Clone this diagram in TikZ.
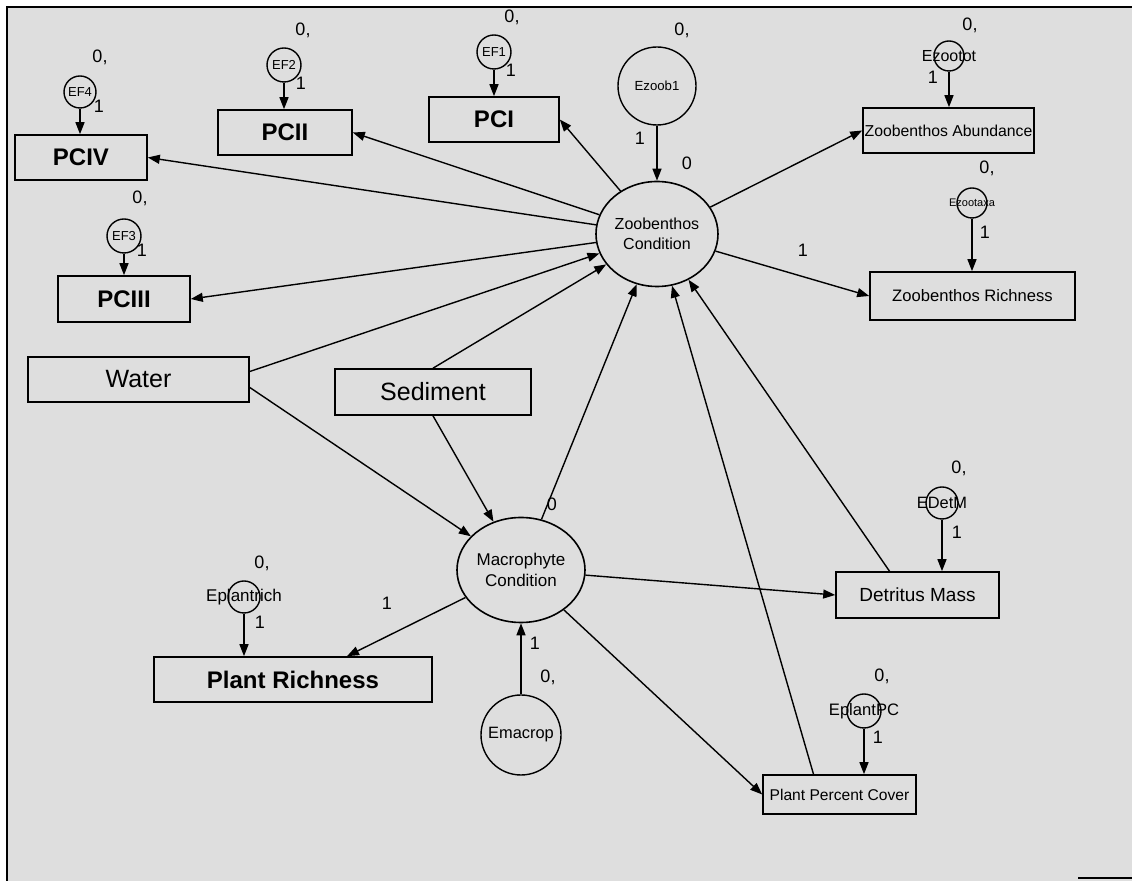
\documentclass[tikz,border=0pt]{standalone}
\usepackage{fontspec}
\setmainfont{Liberation Sans}
\usetikzlibrary{shapes.geometric, arrows.meta}

\begin{document}
\begin{tikzpicture}[
    x=0.5pt, y=-0.5pt,
    every node/.style={inner sep=0pt, align=center},
    obs/.style n args={2}{draw, rectangle, line width=0.8pt, minimum width=#1, minimum height=#2},
    lat/.style n args={2}{draw, ellipse, line width=0.8pt, minimum width=#1, minimum height=#2},
    errc/.style={draw, circle, line width=0.7pt, minimum size=#1},
    bigtxt/.style={font=\fontsize{12}{14}\selectfont\bfseries},
    midtxt/.style={font=\fontsize{12.5}{14}\selectfont},
    num/.style={font=\fontsize{9}{10}\selectfont},
    every path/.style={line width=0.7pt},
    conn/.style={-{Triangle[length=6pt, width=4.5pt]}}
]
\useasboundingbox (0,0) rectangle (1132,881);
\fill[black!13] (7,7) rectangle (1132,881);
\draw[line width=1pt] (7,881) -- (7,7) -- (1132,7);
\draw[line width=0.8pt] (1078,878) -- (1132,878);

% Observed boxes
\node[obs={66pt}{22.5pt}, bigtxt] (pciv) at (81,157.5) {PCIV};
\node[obs={67pt}{22.5pt}, bigtxt] (pcii) at (285,132.5) {PCII};
\node[obs={65pt}{22.5pt}, bigtxt] (pci) at (494,119.5) {PCI};
\node[obs={66pt}{23pt}, bigtxt] (pciii) at (124,299) {PCIII};
\node[obs={85.5pt}{22.5pt}, font=\fontsize{7.9}{9}\selectfont] (abund) at (948.5,130.5) {Zoobenthos Abundance};
\node[obs={102.5pt}{24pt}, font=\fontsize{8.3}{10}\selectfont] (rich) at (972.5,296) {Zoobenthos Richness};
\node[obs={110.5pt}{22.5pt}, midtxt] (water) at (138.5,379.5) {Water};
\node[obs={98pt}{23pt}, midtxt] (sed) at (433,392) {Sediment};
\node[obs={81.5pt}{23pt}, font=\fontsize{9.5}{11}\selectfont] (det) at (917.5,595) {Detritus Mass};
\node[obs={76.5pt}{19.5pt}, font=\fontsize{7.8}{9}\selectfont] (ppc) at (839.5,794.5) {Plant Percent Cover};
\node[obs={139pt}{22.5pt}, bigtxt] (pr) at (293,679.5) {Plant Richness};

% Latent variables
\node[lat={61pt}{52.5pt}, font=\fontsize{8}{10}\selectfont] (zoob) at (657,234) {Zoobenthos\\Condition};
\node[lat={64pt}{52.5pt}, font=\fontsize{8.5}{10.5}\selectfont] (macro) at (521,570) {Macrophyte\\Condition};

% Error terms
\node[errc=16pt] (ef4) at (80,92) {};
\node[errc=17pt] (ef2) at (284,65) {};
\node[errc=17pt] (ef1) at (494,52) {};
\node[errc=17pt] (ef3) at (124,236) {};
\node[errc=39pt] (ezoob) at (657,86) {};
\node[errc=15pt] (ezootot) at (949,56) {};
\node[errc=15pt] (ezootaxa) at (972,203) {};
\node[errc=16pt] (edetm) at (942,503) {};
\node[errc=17pt] (eplantpc) at (864,711) {};
\node[errc=16pt] (eplantrich) at (244,597) {};
\node[errc=40pt] (emacrop) at (521,735) {};

\node[font=\fontsize{6.5}{7}\selectfont] (ef4-t) at (ef4) {EF4};
\node[font=\fontsize{6.5}{7}\selectfont] (ef2-t) at (ef2) {EF2};
\node[font=\fontsize{6.5}{7}\selectfont] (ef1-t) at (ef1) {EF1};
\node[font=\fontsize{6.5}{7}\selectfont] (ef3-t) at (ef3) {EF3};
\node[font=\fontsize{6.6}{8}\selectfont] (ezoob-t) at (ezoob) {Ezoob1};
\node[font=\fontsize{8}{9}\selectfont] (ezootot-t) at (ezootot) {Ezootot};
\node[font=\fontsize{5.5}{6}\selectfont] (ezootaxa-t) at (ezootaxa) {Ezootaxa};
\node[font=\fontsize{8.2}{9}\selectfont] (edetm-t) at (edetm) {EDetM};
\node[font=\fontsize{8.3}{9}\selectfont] (eplantpc-t) at (eplantpc) {EplantPC};
\node[font=\fontsize{8.5}{9}\selectfont] (eplantrich-t) at (eplantrich) {Eplantrich};
\node[font=\fontsize{8.2}{9}\selectfont] (emacrop-t) at (emacrop) {Emacrop};

% Error arrows
\draw[conn] (ef4) -- (ef4 |- pciv.north);
\draw[conn] (ef2) -- (ef2 |- pcii.north);
\draw[conn] (ef1) -- (ef1 |- pci.north);
\draw[conn] (ef3) -- (ef3 |- pciii.north);
\draw[conn] (ezoob) -- (zoob);
\draw[conn] (ezootot) -- (ezootot |- abund.north);
\draw[conn] (ezootaxa) -- (ezootaxa |- rich.north);
\draw[conn] (edetm) -- (edetm |- det.north);
\draw[conn] (eplantpc) -- (eplantpc |- ppc.north);
\draw[conn] (eplantrich) -- (eplantrich |- pr.north);
\draw[conn] (emacrop) -- (macro);

% Paths
\draw[conn] (zoob) -- (pci.east);
\draw[conn] (zoob) -- (pcii.east);
\draw[conn] (zoob) -- (pciv.east);
\draw[conn] (zoob) -- (pciii.east);
\draw[conn] (zoob) -- (abund.west);
\draw[conn] (zoob) -- (rich.west);
\draw[conn] ([yshift=4pt]water.east) -- (zoob);
\draw[conn] ([yshift=-4pt]water.east) -- (macro);
\draw[conn] (sed.north) -- (zoob);
\draw[conn] (sed.south) -- (macro);
\draw[conn] (macro) -- (zoob);
\draw[conn] ([xshift=-13pt]ppc.north) -- (zoob);
\draw[conn] ([xshift=-14pt]det.north) -- (zoob);
\draw[conn] (macro) -- (det.west);
\draw[conn] (macro) -- (ppc.west);
\draw[conn] (macro) -- ([xshift=27pt]pr.north);

% Estimates
\node[num] (v-ef4) at (100,57) {0,};
\node[num] (v-ef2) at (303,30) {0,};
\node[num] (v-ef1) at (512,17) {0,};
\node[num] (v-ezoob) at (682,30) {0,};
\node[num] (v-ezootot) at (970,25) {0,};
\node[num] (v-ezootaxa) at (987,168) {0,};
\node[num] (v-ef3) at (140,198) {0,};
\node[num] (v-edetm) at (959,468) {0,};
\node[num] (v-eplantrich) at (262,563) {0,};
\node[num] (v-eplantpc) at (882,676) {0,};
\node[num] (v-emacrop) at (548,677) {0,};
\node[num] (i-zoob) at (687,163) {0};
\node[num] (i-macro) at (552,504) {0};
\node[num] (w-ef4) at (99,106) {1};
\node[num] (w-ef2) at (301,83) {1};
\node[num] (w-ef1) at (511,70) {1};
\node[num] (w-ef3) at (142,250) {1};
\node[num] (w-ezoob) at (640,138) {1};
\node[num] (w-ezootot) at (933,77) {1};
\node[num] (w-ezootaxa) at (985,232) {1};
\node[num] (w-rich) at (803,250) {1};
\node[num] (w-edetm) at (957,532) {1};
\node[num] (w-eplantpc) at (878,737) {1};
\node[num] (w-eplantrich) at (260,622) {1};
\node[num] (w-pr) at (387,603) {1};
\node[num] (w-emacrop) at (535,643) {1};
\end{tikzpicture}
\end{document}
